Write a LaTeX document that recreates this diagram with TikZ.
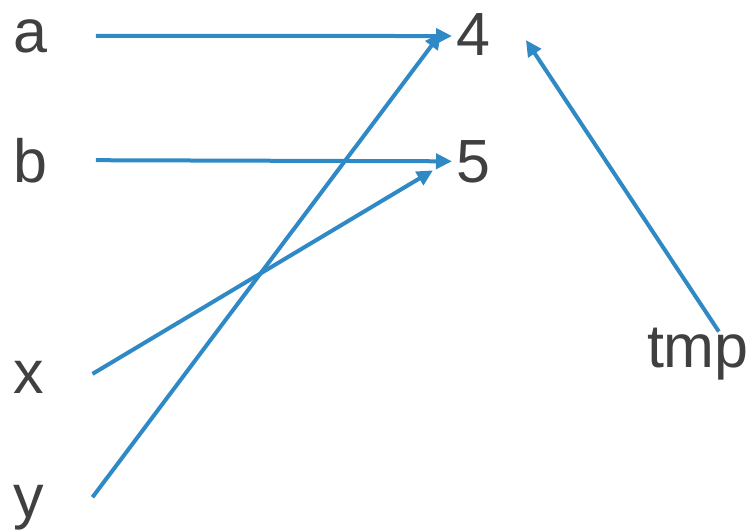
\documentclass[tikz,border=0pt]{standalone}
\usepackage{fontspec}
\setmainfont{Liberation Sans}
\usetikzlibrary{arrows.meta,calc}
\definecolor{txtgray}{RGB}{64,64,64}
\definecolor{arrblue}{RGB}{46,137,196}
\begin{document}
\begin{tikzpicture}[x=1pt,y=-1pt,
  lbl/.style={inner sep=0pt,outer sep=0pt,anchor=base west,text=txtgray,font=\fontsize{61}{72}\selectfont},
  conn/.style={draw=arrblue,line width=4pt,-{Triangle[length=16pt,width=15pt]}}]
\useasboundingbox (0,0) rectangle (754,531);
\node[lbl] (a) at (13,52) {a};
\node[lbl] (b) at (13,182) {b};
\node[lbl] (x) at (13,393) {x};
\node[lbl] (y) at (13,517) {y};
\node[lbl] (n4) at (456,55) {4};
\node[lbl] (n5) at (456,182) {5};
\node[lbl] (tmp) at (647,367) {tmp};
\draw[conn] ($(a.east)+(49,0)$) -- ($(n4.west)+(-4,2)$);
\draw[conn] ($(b.east)+(49,0)$) -- ($(n5.west)+(-4,0)$);
\draw[conn] ($(x.east)+(49,-3)$) -- ($(n5.west)+(-23,9)$);
\draw[conn] ($(y.east)+(49,-10)$) -- ($(n4.west)+(-15,-1)$);
\draw[conn] ($(tmp.north)+(21,4)$) -- ($(n4.east)+(36,6)$);
\end{tikzpicture}
\end{document}
